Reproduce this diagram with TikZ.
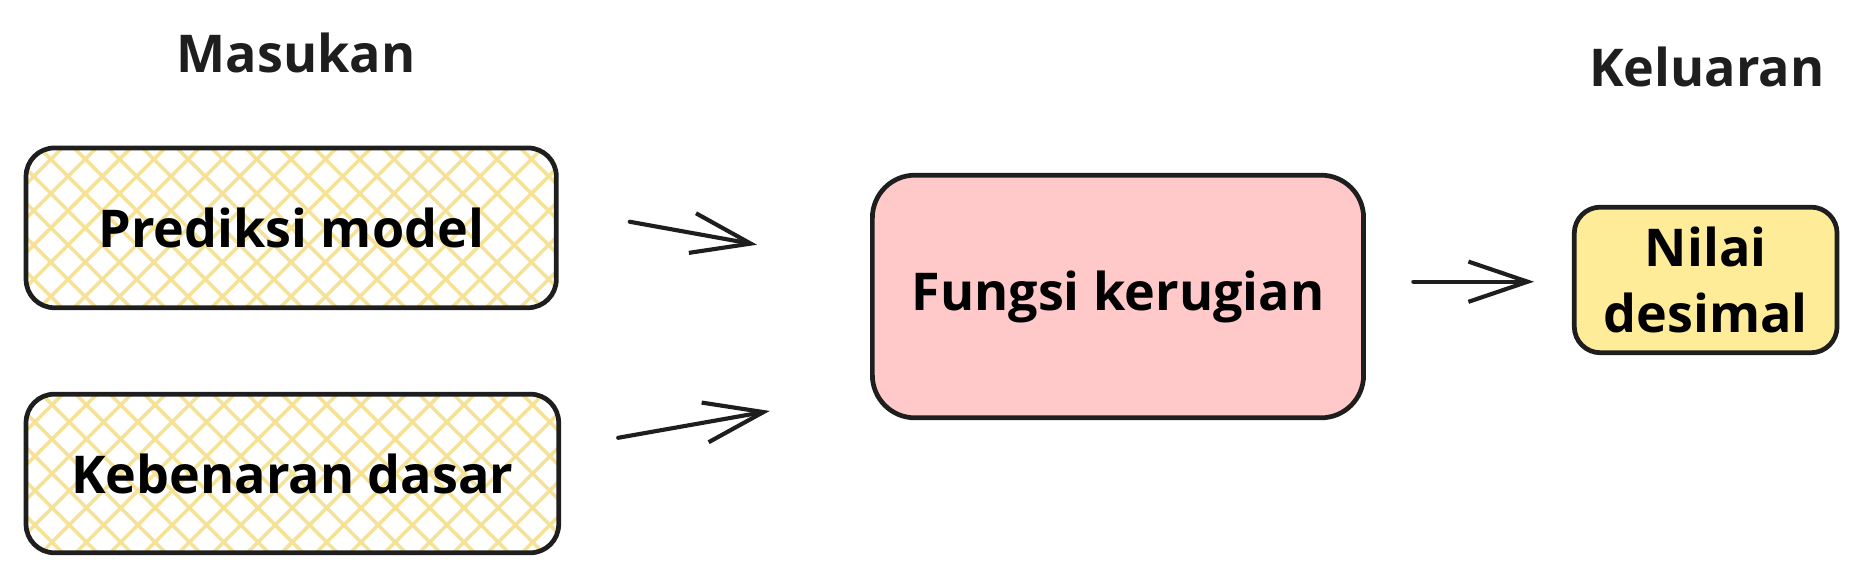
\documentclass[tikz,border=0pt]{standalone}
\usepackage{fontspec}
\setmainfont{Open Sans}
\usetikzlibrary{arrows.meta}
\definecolor{inkcol}{RGB}{30,30,30}
\definecolor{hcol}{RGB}{245,226,150}
\definecolor{pcol}{RGB}{255,201,201}
\definecolor{ycol}{RGB}{255,236,153}
\tikzset{every picture/.style={x=1pt,y=-1pt}}
\tikzset{box/.style={draw=inkcol,line width=4pt,rounded corners=24pt,inner sep=0pt,align=center,font=\fontsize{44}{56}\selectfont\bfseries}}
\tikzset{hatchline/.style={hcol,line width=3pt}}
\tikzset{hatched/.style={path picture={
  \foreach \k in {-12,...,12}{
    \draw [hatchline] ([xshift=\k*29pt]path picture bounding box.center) ++(-170pt,-170pt) -- ++(340pt,340pt);
    \draw [hatchline] ([xshift=\k*29pt]path picture bounding box.center) ++(170pt,-170pt) -- ++(-340pt,340pt);
  }}}}
\tikzset{edge/.style={draw=inkcol,line width=3.5pt,line cap=round,-{Straight Barb[length=50pt,width=34pt,line width=3.5pt]}}}
\tikzset{title/.style={font=\fontsize{44}{56}\selectfont\bfseries,text=inkcol}}

\begin{document}
\begin{tikzpicture}
\useasboundingbox (0,0) rectangle (1568,486.6);

\node [title] (inputs) at (250,45) {Masukan};
\node [title] (outputs) at (1442,57) {Keluaran};

\node [box,hatched,minimum width=448pt,minimum height=135pt] (pred) at (246,192.5) {Prediksi model};
\node [box,hatched,minimum width=450pt,minimum height=134pt] (truth) at (247,400) {Kebenaran dasar};

\node [box,fill=pcol,rounded corners=36pt,minimum width=415pt,minimum height=205pt] (loss) at (944.5,250.5) {Fungsi kerugian};
\node [box,fill=ycol,rounded corners=22pt,minimum width=222pt,minimum height=123pt] (out) at (1441,236.5) {Nilai\\desimal};

\draw [edge,shorten <=61pt,shorten >=97pt] ([yshift=16pt]pred.east) -- ([yshift=26.5pt]loss.west);
\draw [edge,shorten <=49pt,shorten >=86pt] ([yshift=21.6pt]truth.east) -- ([yshift=-81.7pt]loss.west);
\draw [edge,shorten <=40pt,shorten >=32pt] ([yshift=12.5pt]loss.east) -- ([yshift=-1.5pt]out.west);
\end{tikzpicture}
\end{document}
